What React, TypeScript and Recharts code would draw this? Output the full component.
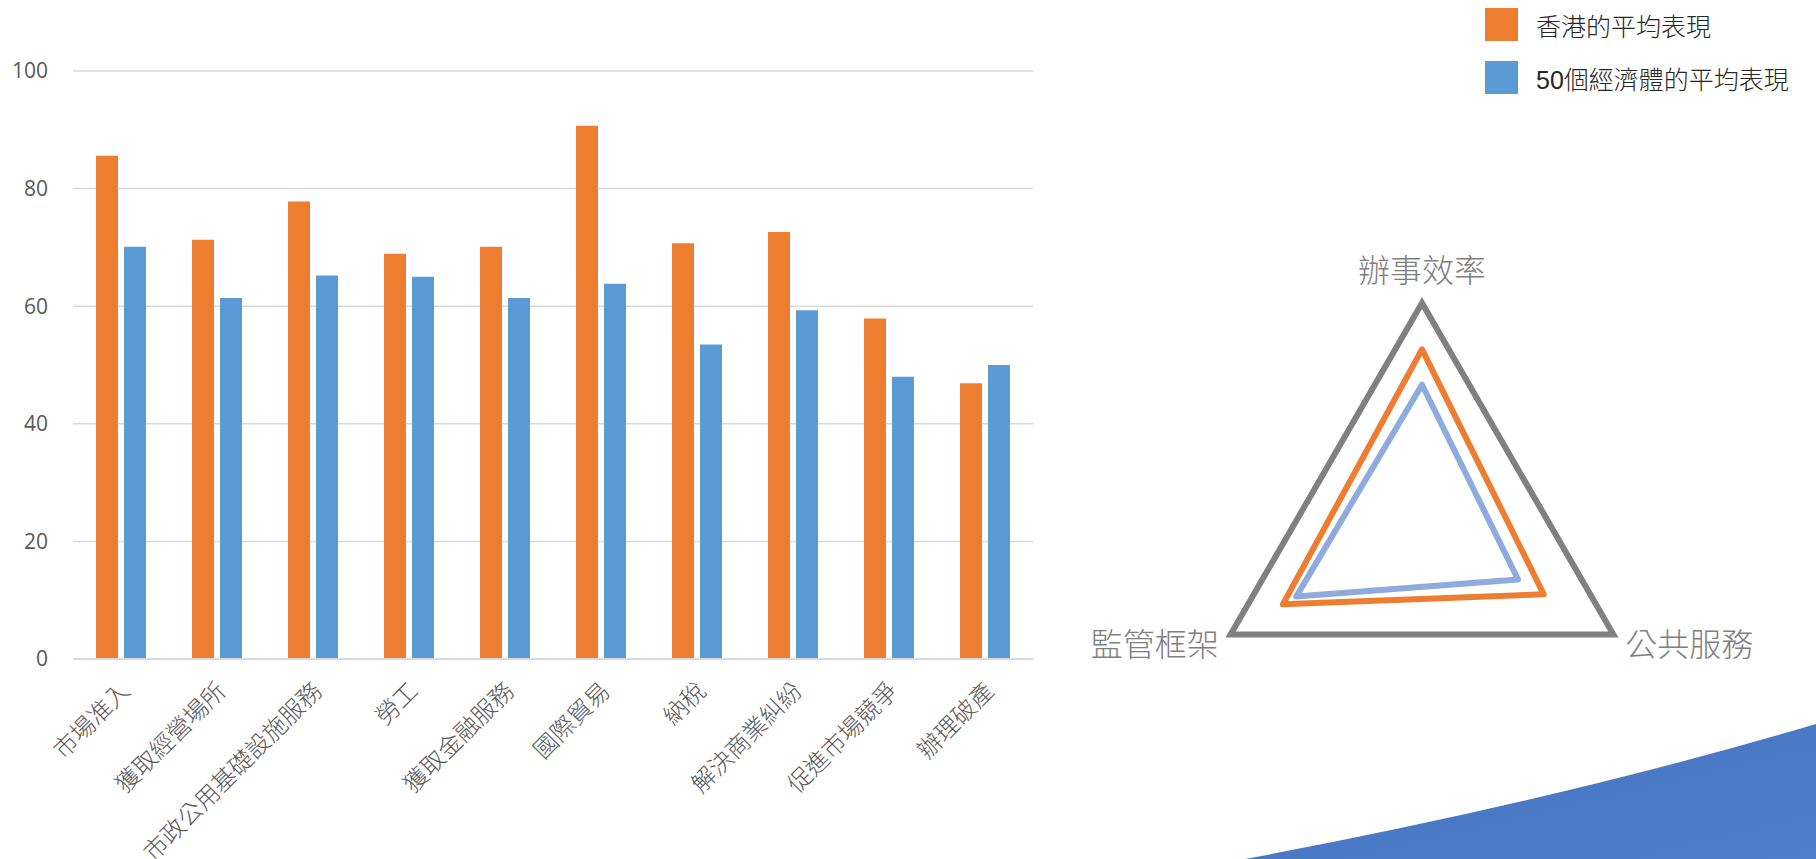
import React from 'react';
import {
  Bar,
  BarChart,
  CartesianGrid,
  PolarAngleAxis,
  PolarGrid,
  PolarRadiusAxis,
  Radar,
  RadarChart,
  XAxis,
  YAxis,
} from 'recharts';

// B-READY style slide: topic scores as paired bars on the left, the three
// pillar scores as a triangle radar on the right, shared legend top-right.

const categories = [
  '市場准入',
  '獲取經營場所',
  '市政公用基礎設施服務',
  '勞工',
  '獲取金融服務',
  '國際貿易',
  '納稅',
  '解決商業糾紛',
  '促進市場競爭',
  '辦理破產',
];
const hkScores = [85.6, 71.3, 77.8, 68.9, 70.1, 90.7, 70.7, 72.6, 57.9, 46.9];
const avgScores = [70.1, 61.4, 65.2, 65.0, 61.4, 63.8, 53.5, 59.3, 48.0, 50.0];
const yTicks = [0, 20, 40, 60, 80, 100];

const pillars = ['辦事效率', '公共服務', '監管框架'];
const hkPillars = [79.0, 63.6, 72.7];
const avgPillars = [63.0, 50.2, 65.7];

const seriesNames = ['香港的平均表現', '50個經濟體的平均表現'];

const ORANGE = '#ED7D31';
const BLUE = '#5B9BD5';
const RADAR_BLUE = '#8FAADC';
const CJK = '"Noto Sans CJK TC", "Noto Sans", sans-serif';

const barData = categories.map((name, i) => ({
  name,
  hk: hkScores[i],
  avg: avgScores[i],
}));

const radarData = pillars.map((name, i) => ({
  name,
  hk: hkPillars[i],
  avg: avgPillars[i],
}));

function CategoryTick({ x, y, payload }: any) {
  return (
    <g transform={`translate(${x + 3},${y + 18}) rotate(-45)`}>
      <text
        x={0}
        y={0}
        textAnchor='end'
        dominantBaseline='central'
        fill='#595959'
        fontSize={24}
        fontFamily={CJK}
        fontWeight={300}
      >
        {payload.value}
      </text>
    </g>
  );
}

function PillarTick({ x, y, payload, textAnchor }: any) {
  const top = textAnchor === 'middle';
  const dx = top ? 0 : textAnchor === 'end' ? -5 : 5;
  const dy = top ? -27 : 3;
  return (
    <text
      x={x + dx}
      y={y + dy}
      textAnchor={textAnchor}
      dominantBaseline='central'
      fill='#7f7f7f'
      fontSize={32}
      fontFamily={CJK}
      fontWeight={300}
    >
      {payload.value}
    </text>
  );
}

export default function App() {
  const colors = [ORANGE, BLUE];
  return (
    <div
      style={{
        position: 'absolute',
        left: 0,
        top: 0,
        width: 1816,
        height: 859,
        background: '#fff',
        overflow: 'hidden',
      }}
    >
      <svg
        width={1816}
        height={859}
        style={{ position: 'absolute', left: 0, top: 0 }}
      >
        <defs>
          <linearGradient id='wave' x1='0' y1='0' x2='1' y2='1'>
            <stop offset='0%' stopColor='#4270BE' />
            <stop offset='100%' stopColor='#5080CC' />
          </linearGradient>
        </defs>
        <path d='M1245,859 Q1560,800 1816,724 L1816,859 Z' fill='url(#wave)' />
      </svg>

      <div style={{ position: 'absolute', left: 0, top: 0 }}>
        <BarChart
          width={1060}
          height={859}
          data={barData}
          margin={{ top: 71, right: 27, bottom: 50, left: 0 }}
          barSize={22}
          barGap={6}
        >
          <CartesianGrid
            vertical={false}
            stroke='#d9d9d9'
            strokeWidth={1.5}
          />
          <XAxis
            dataKey='name'
            interval={0}
            height={150}
            tickLine={false}
            axisLine={{ stroke: '#d9d9d9', strokeWidth: 2 }}
            tick={<CategoryTick />}
          />
          <YAxis
            width={73}
            domain={[0, 100]}
            ticks={yTicks}
            axisLine={false}
            tickLine={false}
            tickMargin={19}
            tick={{
              fill: '#595959',
              fontSize: 21,
              fontFamily: '"Open Sans", sans-serif',
            }}
          />
          <Bar dataKey='hk' fill={ORANGE} isAnimationActive={false} />
          <Bar dataKey='avg' fill={BLUE} isAnimationActive={false} />
        </BarChart>
      </div>

      <div style={{ position: 'absolute', left: 1060, top: 150 }}>
        <RadarChart
          width={756}
          height={600}
          data={radarData}
          cx={362}
          cy={374}
          outerRadius={221}
        >
          <PolarGrid
            gridType='polygon'
            radialLines={false}
            polarRadius={[221]}
            stroke='#808080'
            strokeWidth={6}
          />
          <PolarAngleAxis
            dataKey='name'
            axisLine={false}
            tickLine={false}
            tick={<PillarTick />}
          />
          <PolarRadiusAxis
            domain={[0, 100]}
            tick={false}
            axisLine={false}
          />
          <Radar
            dataKey='hk'
            stroke={ORANGE}
            strokeWidth={6}
            fill='none'
            strokeLinejoin='round'
            isAnimationActive={false}
          />
          <Radar
            dataKey='avg'
            stroke={RADAR_BLUE}
            strokeWidth={6}
            fill='none'
            strokeLinejoin='round'
            isAnimationActive={false}
          />
        </RadarChart>
      </div>

      {seriesNames.map((name, i) => (
        <div
          key={name}
          style={{
            position: 'absolute',
            left: 1485,
            top: 8 + i * 53,
            height: 33,
            display: 'flex',
            alignItems: 'center',
            whiteSpace: 'nowrap',
          }}
        >
          <div
            style={{
              width: 33,
              height: 33,
              background: colors[i],
              marginRight: 18,
            }}
          />
          <span
            style={{
              fontFamily: '"Liberation Sans", ' + CJK,
              fontSize: 25,
              fontWeight: 300,
              color: '#262626',
            }}
          >
            {name}
          </span>
        </div>
      ))}
    </div>
  );
}
